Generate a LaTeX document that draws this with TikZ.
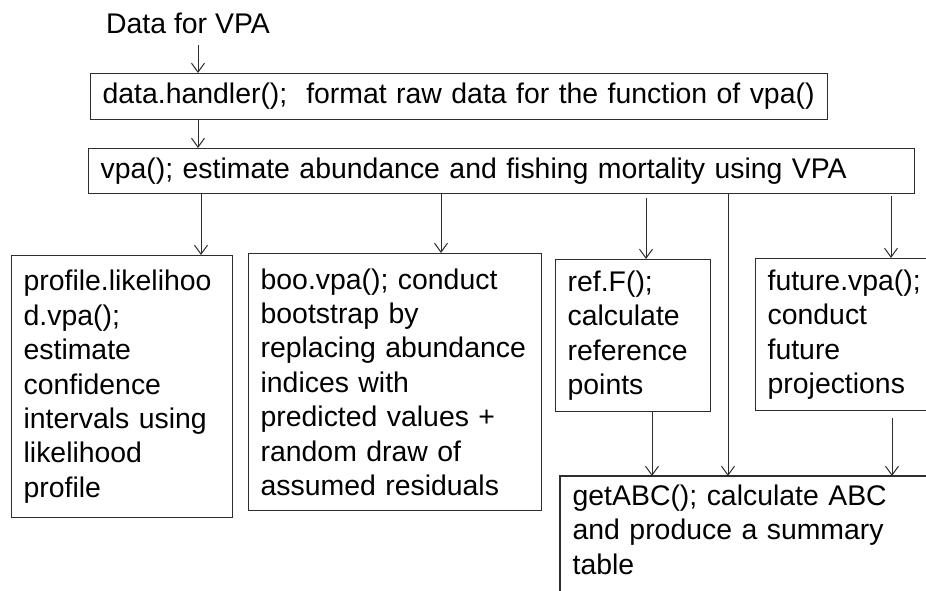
\documentclass[tikz,border=0pt]{standalone}
\usepackage{fontspec}
\setmainfont{Liberation Sans}
\usetikzlibrary{arrows.meta}
\definecolor{linegray}{RGB}{45,45,45}

\begin{document}
\begin{tikzpicture}[x=1pt,y=-1pt,font=\fontsize{28.4}{34.4}\selectfont,
  frame/.style={draw=linegray,line width=1.3pt},
  box/.style={frame,anchor=north west,inner xsep=12pt,inner ysep=8pt,align=left},
  arr/.style={-{Straight Barb[length=9pt,width=13pt]},line width=1pt,draw=linegray}]
\clip (0,0) rectangle (926,590);
% input and the two top steps
\node[anchor=base west,inner sep=0pt] (input) at (106,33) {Data for VPA};
\node[box,minimum width=737pt,minimum height=46pt,text width=713pt] (handler) at (90,73) {data.handler();~ format raw data for the function of vpa()};
\node[box,minimum width=826pt,minimum height=45pt,text width=802pt] (vpa) at (88,148) {vpa(); estimate abundance and fishing mortality using VPA};
% functions that use the vpa() result
\node[box,minimum width=221pt,minimum height=262pt,text width=197pt] (profile) at (11,255) {profile.likelihoo\\d.vpa();\\estimate\\confidence\\intervals using\\likelihood\\profile};
\node[box,minimum width=293pt,minimum height=257pt,text width=269pt] (boot) at (248,253) {boo.vpa(); conduct\\bootstrap by\\replacing abundance\\indices with\\predicted values +\\random draw of\\assumed residuals};
\node[box,minimum width=155pt,minimum height=152pt,text width=131pt] (reff) at (555,259) {ref.F();\\calculate\\reference\\points};
\node[box,minimum width=180pt,minimum height=152pt,text width=156pt] (future) at (755,258) {future.vpa();\\conduct\\future\\projections};
\node[box,draw=none,minimum width=400pt,text width=376pt] (abc) at (560,476) {getABC(); calculate ABC\\and produce a summary\\table};
\draw[frame] ([yshift=-60pt]abc.south west) |- (abc.north east);
% connectors
\draw[arr,shorten <=12pt] (input.south -| 198,0) -- (handler.north -| 198,0);
\draw[arr] (handler.south -| 198,0) -- (vpa.north -| 198,0);
\draw[arr] (vpa.south -| 201,0) -- (profile.north -| 201,0);
\draw[arr] (vpa.south -| 441,0) -- (boot.north -| 441,0);
\draw[arr,shorten <=4pt] (vpa.south -| 646,0) -- (reff.north -| 646,0);
\draw[arr] (vpa.south -| 728,0) -- (abc.north -| 728,0);
\draw[arr,shorten <=2pt] (vpa.south -| 891,0) -- (future.north -| 891,0);
\draw[arr] (reff.south -| 652,0) -- (abc.north -| 652,0);
\draw[arr,shorten <=7pt] (future.south -| 892,0) -- (abc.north -| 892,0);
\end{tikzpicture}
\end{document}
